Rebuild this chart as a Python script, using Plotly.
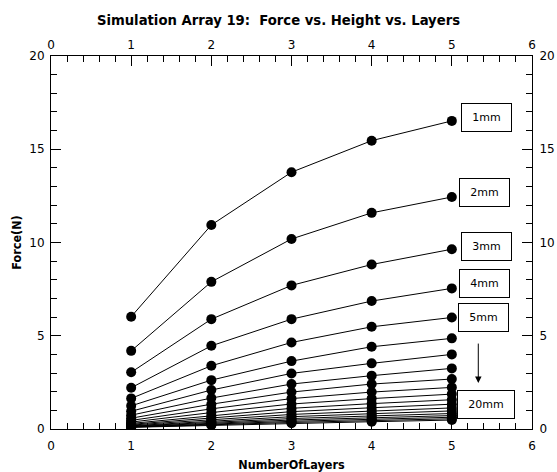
import plotly.graph_objects as go

# Number of layers (x) and the resulting force for each magnet height
layers = [1, 2, 3, 4, 5]
heights_mm = list(range(1, 21))

force_n = {
    1:  [6.02, 10.94, 13.77, 15.46, 16.52],
    2:  [4.19, 7.89, 10.19, 11.59, 12.44],
    3:  [3.04, 5.89, 7.70, 8.82, 9.64],
    4:  [2.21, 4.46, 5.89, 6.86, 7.54],
    5:  [1.64, 3.39, 4.64, 5.48, 5.98],
    6:  [1.24, 2.62, 3.64, 4.41, 4.86],
    7:  [0.95, 2.09, 2.98, 3.52, 4.00],
    8:  [0.74, 1.66, 2.41, 2.86, 3.25],
    9:  [0.58, 1.33, 1.98, 2.41, 2.68],
    10: [0.46, 1.08, 1.63, 1.98, 2.23],
    11: [0.37, 0.88, 1.34, 1.63, 1.87],
    12: [0.30, 0.72, 1.11, 1.36, 1.57],
    13: [0.25, 0.60, 0.93, 1.14, 1.33],
    14: [0.21, 0.50, 0.78, 0.96, 1.13],
    15: [0.17, 0.42, 0.66, 0.82, 0.97],
    16: [0.15, 0.36, 0.56, 0.70, 0.83],
    17: [0.13, 0.31, 0.48, 0.60, 0.72],
    18: [0.11, 0.27, 0.41, 0.52, 0.63],
    19: [0.10, 0.23, 0.35, 0.45, 0.55],
    20: [0.09, 0.20, 0.31, 0.39, 0.48],
}

labelled_heights = [1, 2, 3, 4, 5]
last_label = 20

x_ticks = [0, 1, 2, 3, 4, 5, 6]
y_ticks = [0, 5, 10, 15, 20]

# small pixel nudges for the label boxes so they don't collide
label_xshift = [0, -2, 0, -2, -3]
label_yshift = [3, 4, 3, 5, 0]

FONT = "DejaVu Sans"
BOLD_FONT = "DejaVu Sans Condensed, DejaVu Sans"

fig = go.Figure()

for h in heights_mm:
    fig.add_trace(go.Scatter(
        x=layers, y=force_n[h], mode="lines+markers", name=f"{h}mm",
        line=dict(color="black", width=1),
        marker=dict(color="black", size=10),
        showlegend=False, hoverinfo="skip",
    ))

# empty trace so the mirrored top/right axes are drawn
fig.add_trace(go.Scatter(x=[], y=[], xaxis="x2", yaxis="y2", showlegend=False))

annotations = []
for h, dx, dy in zip(labelled_heights, label_xshift, label_yshift):
    annotations.append(dict(
        x=5.43, y=force_n[h][-1], xref="x", yref="y",
        xshift=dx, yshift=dy,
        text=f"{h}mm", showarrow=False,
        font=dict(family=FONT, size=11, color="black"),
        bordercolor="black", borderwidth=1, borderpad=1,
        bgcolor="white", width=47, height=25,
    ))

# label for the lowest curve, with a downward arrow pointing to it
annotations.append(dict(
    x=5.43, y=1.29, xref="x", yref="y",
    text=f"{last_label}mm", showarrow=False,
    font=dict(family=FONT, size=11, color="black"),
    bordercolor="black", borderwidth=1, borderpad=1,
    bgcolor="white", width=54, height=25,
))
annotations.append(dict(
    x=5.33, y=2.46, xref="x", yref="y",
    ax=5.33, ay=4.66, axref="x", ayref="y",
    text="", showarrow=True, arrowhead=2, arrowsize=1.3,
    arrowwidth=1, arrowcolor="black",
))

axis_common = dict(
    showgrid=False, zeroline=False, showline=True, linecolor="black",
    linewidth=1, ticks="inside", ticklen=10, tickcolor="black",
    automargin=False,
    tickfont=dict(family=FONT, size=12, color="black"),
)

fig.update_layout(
    width=557, height=472,
    margin=dict(l=51, r=25, t=56, b=43),
    paper_bgcolor="white", plot_bgcolor="white",
    title=dict(
        text="<b>Simulation Array 19:\u00a0 Force vs. Height vs. Layers</b>",
        x=0.5, xanchor="center", y=0.957, yanchor="middle",
        font=dict(family=BOLD_FONT, size=14.7, color="black"),
    ),
    xaxis=dict(
        range=[0, 6], tickvals=x_ticks, ticklabelstandoff=6, **axis_common,
        minor=dict(ticks="inside", ticklen=6, dtick=0.2, tickcolor="black", showgrid=False),
        title=dict(text="<b>NumberOfLayers</b>", standoff=8,
                   font=dict(family=BOLD_FONT, size=12.5, color="black")),
    ),
    yaxis=dict(
        range=[0, 20], tickvals=y_ticks, ticklabelstandoff=3, **axis_common,
        minor=dict(ticks="inside", ticklen=6, dtick=1, tickcolor="black", showgrid=False),
        title=dict(text="<b>Force(N)</b>", standoff=4,
                   font=dict(family=BOLD_FONT, size=12.5, color="black")),
    ),
    xaxis2=dict(
        range=[0, 6], tickvals=x_ticks, overlaying="x", side="top", anchor="y",
        ticklabelstandoff=1, **axis_common,
        minor=dict(ticks="inside", ticklen=6, dtick=0.2, tickcolor="black", showgrid=False),
    ),
    yaxis2=dict(
        range=[0, 20], tickvals=y_ticks, overlaying="y", side="right", anchor="x",
        ticklabelstandoff=4, **axis_common,
        minor=dict(ticks="inside", ticklen=6, dtick=1, tickcolor="black", showgrid=False),
    ),
    annotations=annotations,
)

fig.write_html("out.html")
